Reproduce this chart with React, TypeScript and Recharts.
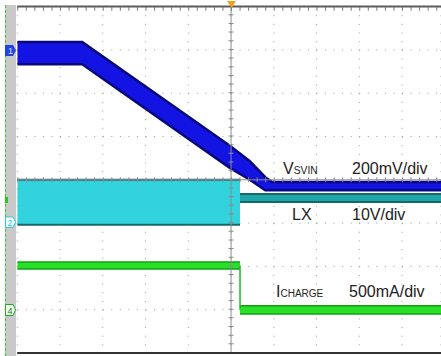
import React from 'react';
import { ComposedChart, Area, Line, XAxis, YAxis, CartesianGrid, ReferenceLine } from 'recharts';

// scope screen: time in divisions (10 across), level in divisions (8 tall, 0 = bottom)
const vsvinTime = [0, 1.52, 4.98, 5.44, 5.8, 5.96, 9.91];
const vsvinLow = [6.67, 6.67, 4.27, 4.0, 3.76, 3.76, 3.76];
const vsvinHigh = [7.18, 7.18, 4.78, 4.43, 4.06, 3.95, 3.95];

const lxOnTime = [0, 5.21];
const lxOnLow = [2.96, 2.96];
const lxOnHigh = [4.0, 4.0];
const lxOffTime = [5.21, 9.91];
const lxOffLow = [3.49, 3.49];
const lxOffHigh = [3.67, 3.67];

const chargeOnTime = [0, 5.21];
const chargeOnLow = [1.94, 1.94];
const chargeOnHigh = [2.1, 2.1];
const chargeOffTime = [5.21, 9.91];
const chargeOffLow = [0.9, 0.9];
const chargeOffHigh = [1.09, 1.09];
const chargeStepTime = [5.21, 5.21];
const chargeStepLevel = [2.02, 1.0];

const xTicks = [1, 2, 3, 4, 5, 6, 7, 8, 9];
const yTicks = [1, 2, 3, 4, 5, 6, 7];

const band = (time: number[], low: number[], high: number[]) =>
  time.map((t, i) => ({ t, v: [low[i], high[i]] }));

const W = 441;
const H = 356;
const font = '"Liberation Sans", Arial, sans-serif';

const areaCommon = {
  dataKey: 'v',
  type: 'linear' as const,
  isAnimationActive: false,
  dot: false,
  activeDot: false,
  fillOpacity: 1,
};

export default function App() {
  return (
    <div style={{ position: 'absolute', left: 0, top: 0, width: W, height: H, overflow: 'hidden', background: '#fff' }}>
      {/* left channel strip */}
      <div
        style={{
          position: 'absolute',
          left: 5,
          top: 5,
          width: 11,
          height: H - 5,
          background: '#c9c9c9',
          borderLeft: '1px dashed #33cc33',
          boxSizing: 'border-box',
        }}
      />
      <ComposedChart width={W} height={H} margin={{ top: 6.6, right: 0, bottom: 3, left: 17.25 }}>
        <XAxis dataKey="t" type="number" domain={[0, 9.91]} ticks={xTicks} allowDataOverflow hide />
        <YAxis type="number" domain={[0, 8]} ticks={yTicks} allowDataOverflow hide />
        <CartesianGrid horizontal={false} stroke="#9a9a9a" strokeDasharray="1 7.66" />
        <CartesianGrid vertical={false} stroke="#9a9a9a" strokeDasharray="1 7.55" />
        <ReferenceLine x={5} stroke="#8c8c8c" strokeWidth={1} />
        <ReferenceLine x={5} stroke="#8c8c8c" strokeWidth={5} strokeDasharray="1 7.66" />
        <ReferenceLine y={4} stroke="#8c8c8c" strokeWidth={1} />
        <ReferenceLine y={4} stroke="#8c8c8c" strokeWidth={5} strokeDasharray="1 7.55" />
        <ReferenceLine y={8} stroke="#5a5a5a" strokeWidth={2} />
        <ReferenceLine y={7.95} stroke="#7a7a7a" strokeWidth={4} strokeDasharray="1 7.55" />
        <ReferenceLine y={0} stroke="#333" strokeWidth={2} />

        <Area {...areaCommon} data={band(lxOnTime, lxOnLow, lxOnHigh)} fill="#33d3de" stroke="#17676c" strokeWidth={2} />
        <Area {...areaCommon} data={band(lxOffTime, lxOffLow, lxOffHigh)} fill="#1fa5a8" stroke="#136a6c" strokeWidth={2} />
        <Area {...areaCommon} data={band(vsvinTime, vsvinLow, vsvinHigh)} fill="#1313e4" stroke="#08087e" strokeWidth={2.5} />
        <Area {...areaCommon} data={band(chargeOnTime, chargeOnLow, chargeOnHigh)} fill="#28e028" stroke="#12a012" strokeWidth={1.5} />
        <Area {...areaCommon} data={band(chargeOffTime, chargeOffLow, chargeOffHigh)} fill="#28e028" stroke="#12a012" strokeWidth={1.5} />
        <Line
          data={chargeStepTime.map((t, i) => ({ t, level: chargeStepLevel[i] }))}
          dataKey="level"
          type="linear"
          stroke="#22b822"
          strokeWidth={1.5}
          dot={false}
          activeDot={false}
          isAnimationActive={false}
        />
      </ComposedChart>

      {/* channel markers, trigger and scale labels */}
      <svg width={W} height={H} style={{ position: 'absolute', left: 0, top: 0, pointerEvents: 'none' }}>
        <path d="M227,1 L236,1 L231.5,8 Z" fill="#f0a020" />
        <path d="M5,45 L13,45 L16,50.5 L13,56 L5,56 Z" fill="#2244dd" />
        <text x={8} y={54} fontSize={9} fontFamily={font} fill="#cfe0ff">1</text>
        <rect x={5} y={197} width={3} height={6} fill="#22cc22" />
        <path d="M5.5,217 L13,217 L15.5,222 L13,227.5 L5.5,227.5 Z" fill="#f4ffff" stroke="#33c8d8" strokeWidth={1} />
        <text x={7.5} y={226} fontSize={9} fontFamily={font} fill="#33c8d8">2</text>
        <path d="M5.5,304.5 L13,304.5 L15.5,310 L13,315.5 L5.5,315.5 Z" fill="#f0fff0" stroke="#22aa22" strokeWidth={1} />
        <text x={7.5} y={314} fontSize={9} fontFamily={font} fill="#1a7a1a">4</text>

        <g fontFamily={font} fill="#222">
          <text x={283} y={174} fontSize={16}>
            V<tspan fontSize={10.3}>SVIN</tspan>
          </text>
          <text x={352} y={174} fontSize={16}>200mV/div</text>
          <text x={292} y={220} fontSize={16}>LX</text>
          <text x={352} y={220} fontSize={16}>10V/div</text>
          <text x={276} y={297} fontSize={16}>
            I<tspan fontSize={10}>CHARGE</tspan>
          </text>
          <text x={349} y={297} fontSize={16}>500mA/div</text>
        </g>
      </svg>
    </div>
  );
}
